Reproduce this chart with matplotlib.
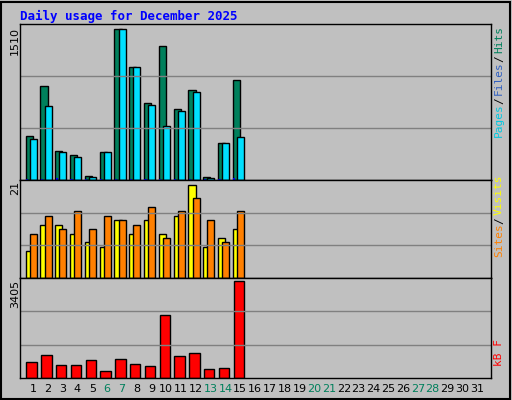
import matplotlib.pyplot as plt
import numpy as np

days = np.arange(1, 32)
n = 15
hits = [434, 936, 290, 249, 44, 280, 1510, 1131, 772, 1336, 711, 895, 34, 372, 998]
files = [413, 741, 280, 229, 27, 280, 1510, 1131, 752, 536, 690, 875, 24, 372, 424]
pages = [8, 12, 15, 6, 10, 5, 5, 6, 5, 14, 6, 8, 5, 5, 18]
visits = [6, 12, 12, 10, 8, 7, 13, 10, 13, 10, 14, 21, 7, 9, 11]
sites = [10, 14, 11, 15, 11, 14, 13, 12, 16, 9, 15, 18, 13, 8, 15]
kbytes = [572, 808, 460, 460, 646, 236, 683, 497, 423, 2212, 758, 870, 311, 348, 3405]
weekend = [6, 7, 13, 14, 20, 21, 27, 28]

W, H = 512, 400
fig = plt.figure(figsize=(W / 100, H / 100), dpi=100, facecolor='#C0C0C0')
fig.patches.append(plt.Rectangle((0.002, 0.003), 0.994, 0.993, transform=fig.transFigure,
                                 fill=False, edgecolor='black', lw=1.5))
mono = 'DejaVu Sans Mono'

def px(x0, y0, x1, y1):
    return [x0 / W, 1 - y1 / H, (x1 - x0) / W, (y1 - y0) / H]

def panel(y0, y1):
    ax = fig.add_axes(px(20, y0, 491, y1))
    ax.set_facecolor('#C0C0C0')
    ax.set_xlim(0.12, 31.94)
    ax.set_xticks([])
    ax.set_yticks([])
    for s in ax.spines.values():
        s.set_color('black')
        s.set_linewidth(1)
    return ax

x = np.arange(1, n + 1)
bk = dict(edgecolor='black', linewidth=1)

ax1 = panel(24, 180)
ax1.set_ylim(0, 1510 * 1.03)
for g in (1510 * 1.03 / 3, 1510 * 1.03 * 2 / 3):
    ax1.axhline(g, color='#808080', lw=1)
ax1.bar(x - 0.26, hits, width=0.48, color='#00805C', **bk)
ax1.bar(x - 0.4, pages, width=0.15, color='#0000FF')
ax1.bar(x + 0.02, files, width=0.48, color='#00E0FF', **bk)

ax2 = panel(180, 278)
ax2.set_ylim(0, 21 * 1.05)
for g in (21 * 1.05 / 3, 21 * 1.05 * 2 / 3):
    ax2.axhline(g, color='#808080', lw=1)
ax2.bar(x - 0.26, visits, width=0.48, color='#FFFF00', **bk)
ax2.bar(x + 0.02, sites, width=0.48, color='#FF8000', **bk)

ax3 = panel(278, 378)
ax3.set_ylim(0, 3405 * 1.03)
for g in (3405 * 1.03 / 3, 3405 * 1.03 * 2 / 3):
    ax3.axhline(g, color='#808080', lw=1)
ax3.bar(x - 0.1, kbytes, width=0.7, color='#FF0000', **bk)

for d in days:
    ax3.text(d, -0.06, str(d), transform=ax3.get_xaxis_transform(), ha='center', va='top',
             fontsize=8, family='DejaVu Sans', color='#00805C' if d in weekend else 'black')

fig.text(20 / W, 1 - 16 / H, 'Daily usage for December 2025', color='#0000FF',
         fontsize=9, family=mono, weight='bold', va='center')

for txt, ytop in (('1510', 27), ('21', 181), ('3405', 280)):
    fig.text(15 / W, 1 - ytop / H, txt, rotation=90, ha='center', va='top',
             fontsize=8, family='DejaVu Sans')

def right_label(parts, ybottom):
    y = ybottom
    for txt, col in parts:
        fig.text(499 / W, 1 - y / H, txt, rotation=90, ha='center', va='bottom',
                 fontsize=8, family=mono, color=col)
        y -= len(txt) * 6.0 + 3

right_label([('Pages', '#00C8E0'), ('/', 'black'), ('Files', '#3060C0'), ('/', 'black'),
             ('Hits', '#00805C')], 137)
right_label([('Sites', '#FF8000'), ('/', 'black'), ('Visits', '#FFFF00')], 257)
right_label([('kB F', '#FF0000')], 366)

fig.savefig('out.png', dpi=100, facecolor=fig.get_facecolor())
